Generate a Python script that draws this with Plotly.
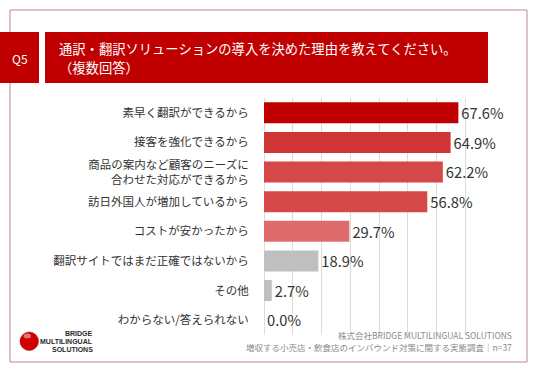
import plotly.graph_objects as go

categories = [
    "素早く翻訳ができるから",
    "接客を強化できるから",
    "商品の案内など顧客のニーズに<br>合わせた対応ができるから",
    "訪日外国人が増加しているから",
    "コストが安かったから",
    "翻訳サイトではまだ正確ではないから",
    "その他",
    "わからない/答えられない",
]
values = [67.6, 64.9, 62.2, 56.8, 29.7, 18.9, 2.7, 0.0]
bar_colors = ["#C00000", "#D03535", "#D54848", "#D54848", "#E06B6B", "#BFBFBF", "#BFBFBF", "#BFBFBF"]
value_labels = [f"{v:.1f}%" for v in values]

title_line1 = "通訳・翻訳ソリューションの導入を決めた理由を教えてください。"
title_line2 = "（複数回答）"
question = "Q5"
source_line1 = "株式会社BRIDGE MULTILINGUAL SOLUTIONS"
source_line2 = "増収する小売店・飲食店のインバウンド対策に関する実態調査｜n=37"
logo_lines = ["BRIDGE", "MULTILINGUAL", "SOLUTIONS"]

W, H = 536, 371
ML, MR, MT, MB = 264, 42, 98, 36
PW, PH = W - ML - MR, H - MT - MB


def px(x):
    return (x - ML) / PW


def py(y):
    return (H - MB - y) / PH


FONT = "Noto Sans CJK JP"

fig = go.Figure(
    go.Bar(
        x=values,
        y=categories,
        orientation="h",
        marker=dict(color=bar_colors, line=dict(width=0)),
        text=value_labels,
        textposition="outside",
        textfont=dict(size=17.5, color="#333333", family=FONT),
        cliponaxis=False,
        width=0.71,
    )
)

shapes = [
    # outer frame
    dict(type="rect", xref="paper", yref="paper", x0=px(10), x1=px(527), y0=py(10), y1=py(362),
         line=dict(color="#C08585", width=1), fillcolor="rgba(0,0,0,0)", layer="below"),
    # Q box
    dict(type="rect", xref="paper", yref="paper", x0=px(0), x1=px(39), y0=py(32), y1=py(83),
         line=dict(width=0), fillcolor="#C00000"),
    # title box
    dict(type="rect", xref="paper", yref="paper", x0=px(45), x1=px(488), y0=py(32), y1=py(83),
         line=dict(width=0), fillcolor="#C00000"),
    # logo ball
    dict(type="circle", xref="paper", yref="paper", x0=px(20), x1=px(38.5), y0=py(332), y1=py(350.5),
         line=dict(color="#A00000", width=0.5), fillcolor="#D00000"),
    dict(type="circle", xref="paper", yref="paper", x0=px(23.5), x1=px(31), y0=py(333.5), y1=py(338.5),
         line=dict(width=0), fillcolor="rgba(255,255,255,0.45)"),
]

annotations = [
    dict(text=question, xref="paper", yref="paper", x=px(19.5), y=py(58), showarrow=False,
         xanchor="center", yanchor="middle", font=dict(size=12, color="white", family=FONT)),
    dict(text=title_line1, xref="paper", yref="paper", x=px(57), y=py(48.5), showarrow=False,
         xanchor="left", yanchor="middle", font=dict(size=13.3, color="white", family=FONT)),
    dict(text=title_line2, xref="paper", yref="paper", x=px(57), y=py(67), showarrow=False,
         xanchor="left", yanchor="middle", font=dict(size=13.3, color="white", family=FONT)),
    dict(text=source_line1, xref="paper", yref="paper", x=px(514), y=py(335), showarrow=False,
         xanchor="right", yanchor="middle", font=dict(size=8.5, color="#8A8A8A", family=FONT)),
    dict(text=source_line2, xref="paper", yref="paper", x=px(514), y=py(346.5), showarrow=False,
         xanchor="right", yanchor="middle", font=dict(size=8.5, color="#8A8A8A", family=FONT)),
]
for i, t in enumerate(logo_lines):
    annotations.append(
        dict(text=f"<b>{t}</b>", xref="paper", yref="paper", x=px(95), y=py(333 + i * 8), showarrow=False,
             xanchor="right", yanchor="middle",
             font=dict(size=7, color="#2A2A2A", family="Liberation Sans"))
    )

fig.update_layout(
    width=W,
    height=H,
    margin=dict(l=ML, r=MR, t=MT, b=MB, autoexpand=False),
    paper_bgcolor="white",
    plot_bgcolor="white",
    showlegend=False,
    bargap=0.29,
    shapes=shapes,
    annotations=annotations,
    font=dict(family=FONT),
    xaxis=dict(range=[0, 80], dtick=10, showgrid=True, gridcolor="#DCDCDC", gridwidth=1,
               zeroline=True, zerolinecolor="#DCDCDC", zerolinewidth=1, automargin=False,
               showticklabels=False, showline=False, fixedrange=True),
    yaxis=dict(autorange="reversed", showgrid=False, showline=False, ticks="outside", ticklen=12,
               tickcolor="rgba(0,0,0,0)", tickfont=dict(size=11.5, color="#333333", family=FONT),
               automargin=False, fixedrange=True),
)

fig.write_html(
    "out.html",
    config={"displayModeBar": False},
    post_script="document.body.style.margin='0';document.body.style.overflow='hidden';",
)
